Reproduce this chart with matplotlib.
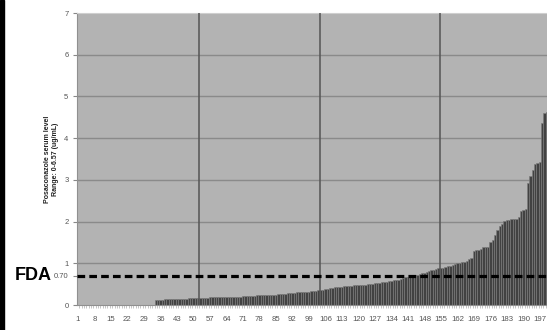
import matplotlib
matplotlib.use("Agg")
import matplotlib.pyplot as plt
from matplotlib.patches import Rectangle

plt.rcParams['font.family'] = ['Liberation Sans', 'DejaVu Sans']

# serum levels (ug/mL), sorted; samples 1-33 were undetectable
zeros = [0.0] * 33
levels = [
    0.12, 0.13, 0.13, 0.13, 0.14, 0.14, 0.14, 0.14, 0.14, 0.15,
    0.15, 0.15, 0.15, 0.15, 0.16, 0.16, 0.16, 0.16, 0.17, 0.17,
    0.17, 0.17, 0.17, 0.18, 0.18, 0.18, 0.18, 0.18, 0.19, 0.19,
    0.19, 0.19, 0.19, 0.20, 0.20, 0.20, 0.20, 0.21, 0.21, 0.21,
    0.22, 0.22, 0.22, 0.23, 0.23, 0.23, 0.24, 0.24, 0.24, 0.25,
    0.25, 0.25, 0.26, 0.26, 0.27, 0.27, 0.28, 0.28, 0.29, 0.29,
    0.30, 0.30, 0.31, 0.31, 0.32, 0.32, 0.33, 0.33, 0.34, 0.35,
    0.36, 0.37, 0.38, 0.39, 0.40, 0.41, 0.42, 0.43, 0.44, 0.44,
    0.45, 0.45, 0.46, 0.46, 0.47, 0.47, 0.48, 0.48, 0.49, 0.49,
    0.50, 0.51, 0.51, 0.52, 0.53, 0.53, 0.54, 0.55, 0.56, 0.57,
    0.58, 0.59, 0.60, 0.61, 0.62, 0.64, 0.66, 0.68, 0.70, 0.71,
    0.72, 0.73, 0.74, 0.76, 0.77, 0.79, 0.81, 0.83, 0.85, 0.86,
    0.88, 0.88, 0.89, 0.90, 0.93, 0.94, 0.95, 0.99, 1.00, 1.01,
    1.03, 1.04, 1.05, 1.10, 1.13, 1.30, 1.32, 1.33, 1.34, 1.38,
    1.39, 1.40, 1.52, 1.56, 1.68, 1.80, 1.90, 1.93, 2.02, 2.04,
    2.04, 2.05, 2.06, 2.07, 2.12, 2.26, 2.28, 2.30, 2.93, 3.10,
    3.24, 3.38, 3.40, 3.42, 4.36, 4.60, 4.62, 5.10, 5.80, 6.57,
]
values = zeros + levels
samples = list(range(1, len(values) + 1))

fda_cutoff = 0.70
y_ticks = [0, 0.70, 1, 2, 3, 4, 5, 6, 7]
y_ticklabels = ['0', '0.70', '1', '2', '3', '4', '5', '6', '7']
h_grid = [1, 2, 3, 4, 5, 6]
v_grid = [52.5, 103.5, 154.5, 205.5]
x_ticks = samples[::7]

W, H = 547, 330
fig = plt.figure(figsize=(W / 100, H / 100), dpi=100)
fig.patch.set_facecolor('white')

# plot area runs past the right edge of the figure
n = len(values)
px_per_cat = 2.357
left_px, top_px, bottom_px = 76.8, 13, 305
width_px = (n + 2.5) * px_per_cat
ax = fig.add_axes([left_px / W, (H - bottom_px) / H, width_px / W, (bottom_px - top_px) / H])
ax.set_facecolor('#b3b3b3')

for g in h_grid:
    ax.axhline(g, color='#8a8a8a', lw=1.0, zorder=1)

ax.bar(samples, values, width=1.0, color='#424242', edgecolor='#7c7c7c', lw=0.45, zorder=2)

for g in v_grid:
    ax.axvline(g, color='#555555', lw=1.1, zorder=3)

ax.axhline(fda_cutoff, color='black', lw=2.3, dashes=(2.4, 1.3), zorder=4)

ax.set_xlim(0.5, n + 3.0)
ax.set_ylim(0, 7)

ax.set_yticks(y_ticks)
ax.set_yticklabels(y_ticklabels)
ax.set_xticks(x_ticks)
ax.set_xticklabels([str(s) for s in x_ticks])
ax.set_xticks([s + 0.5 for s in samples], minor=True)
ax.tick_params(axis='y', length=3, width=0.8, color='#888888', pad=3,
               labelsize=5.5, labelcolor='#555555')
ax.tick_params(axis='x', which='major', length=0, pad=8,
               labelsize=5.6, labelcolor='#555555')
ax.tick_params(axis='x', which='minor', length=2, width=0.4, color='#999999')

for side in ['top', 'right']:
    ax.spines[side].set_color('#cfcfcf')
ax.spines['left'].set_color('#909090')
ax.spines['bottom'].set_color('#909090')
for sp in ax.spines.values():
    sp.set_linewidth(0.8)

ax.set_ylabel('Posaconazole serum level\nRange: 0-6.57 (ug/mL)', fontsize=5,
              fontweight='bold', color='#222222', linespacing=1.2)
ax.yaxis.set_label_coords(-18 / width_px, 0.5)

fig.text(33 / W, 1 - 276 / H, 'FDA', fontsize=13, fontweight='bold',
         ha='center', va='center', color='black')

# black strip along the left edge
fig.patches.append(Rectangle((0, 0), 4 / W, 1, transform=fig.transFigure,
                             color='black', zorder=10))

fig.savefig('out.png', dpi=100)
